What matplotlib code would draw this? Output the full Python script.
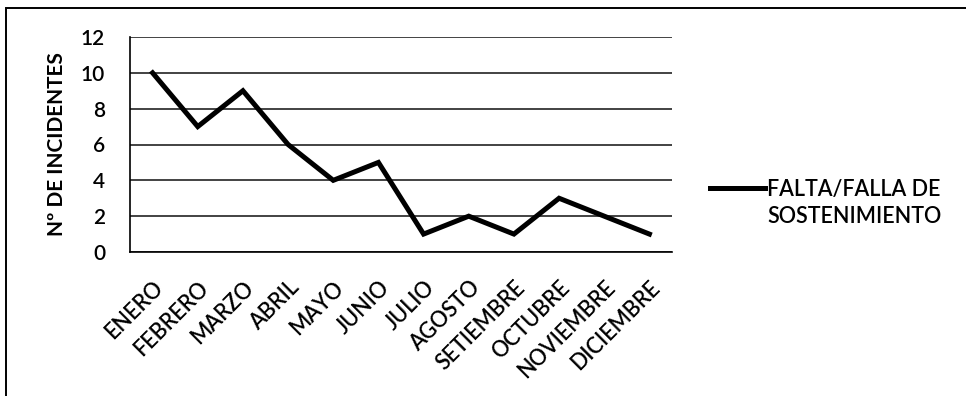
import matplotlib
matplotlib.use("Agg")
import matplotlib.pyplot as plt
from matplotlib.lines import Line2D
from matplotlib.patches import Rectangle

months = ["ENERO", "FEBRERO", "MARZO", "ABRIL", "MAYO", "JUNIO", "JULIO",
          "AGOSTO", "SETIEMBRE", "OCTUBRE", "NOVIEMBRE", "DICIEMBRE"]
incidents = [10, 7, 9, 6, 4, 5, 1, 2, 1, 3, 2, 1]
yticks = [0, 2, 4, 6, 8, 10, 12]
series_label = "FALTA/FALLA DE\nSOSTENIMIENTO"
ylabel = "Nº DE INCIDENTES"

plt.rcParams['font.family'] = ['Lato', 'DejaVu Sans']

W, H = 966, 396
fig = plt.figure(figsize=(W / 100, H / 100), dpi=100)
ax = fig.add_axes([130 / W, 1 - 252 / H, (672 - 130) / W, (252 - 37) / H])

x = list(range(len(months)))
ax.plot(x, incidents, color="black", lw=3.6, solid_joinstyle="miter")
ax.set_xlim(-0.5, len(months) - 0.5)
ax.set_ylim(0, 12)
ax.set_yticks(yticks)
ax.set_yticklabels([str(v) for v in yticks], fontsize=15, fontweight="semibold")
ax.set_xticks(x)
ax.set_xticklabels(months, rotation=45, ha="right", rotation_mode="anchor",
                   fontsize=15.5, fontweight="semibold")
ax.tick_params(axis="both", length=0)
ax.tick_params(axis="x", pad=18)
ax.tick_params(axis="y", pad=18)
ax.grid(axis="y", color="#222222", lw=1.2)
ax.set_axisbelow(True)
for s in ["right", "top"]:
    ax.spines[s].set_visible(False)
ax.spines["left"].set_linewidth(1.2)
ax.spines["bottom"].set_linewidth(1.2)
ax.set_ylabel(ylabel, fontsize=15, fontweight="bold", labelpad=10)

# legend
fig.add_artist(Line2D([710 / W, 765 / W], [1 - 188 / H, 1 - 188 / H],
                      color="black", lw=3.6))
fig.text(767 / W, 1 - 203 / H, series_label, fontsize=15.5, fontweight="semibold",
         ha="left", va="center", linespacing=1.4)

# outer border
fig.add_artist(Rectangle((6 / W, -0.1), 1.1, 1 - 8 / H + 0.1, transform=fig.transFigure,
                         fill=False, edgecolor="black", lw=1.4))

fig.savefig("out.png", dpi=100, facecolor="white")
